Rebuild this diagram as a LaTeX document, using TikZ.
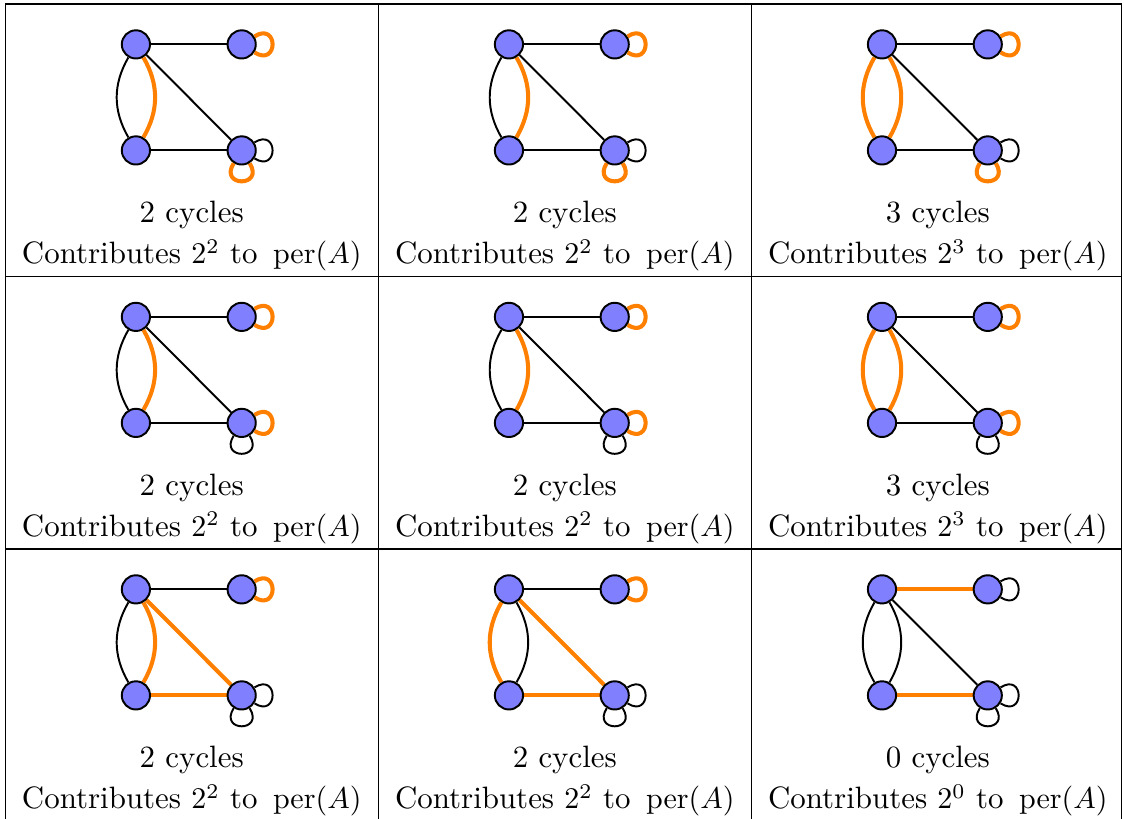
\documentclass[tikz,border=0pt]{standalone}
\usetikzlibrary{backgrounds}

\tikzset{
  vert/.style={circle, draw, fill=blue!50, line width=0.65pt, minimum size=9.4pt, inner sep=0pt},
  plain/.style={draw=black, line width=0.65pt},
  hot/.style={draw=orange, line width=1.35pt},
  rule/.style={draw=black, line width=0.4pt},
  caption/.style={anchor=base, font=\fontsize{10.3}{12}\selectfont},
}

\begin{document}
\begin{tikzpicture}
  \useasboundingbox (0,0) rectangle (13.167,9.594);

  % table rules
  \draw[rule] (0.064,9.548) -- (13.138,9.548);
  \draw[rule] (0.064,6.356) -- (13.138,6.356);
  \draw[rule] (0.064,3.164) -- (13.138,3.164);
  \foreach \x in {0.064,4.434,8.804,13.138}
    \draw[rule] (\x,0) -- (\x,9.548);

  % col/row/cycles/top/bottom/diagonal/left/right/loop tr/loop br/loop below
  \foreach \col/\row/\num/\eup/\elow/\ediag/\eleft/\eright/\etr/\ebr/\ebot in {
      0/0/2/plain/plain/plain/plain/hot/hot/plain/hot,
      1/0/2/plain/plain/plain/plain/hot/hot/plain/hot,
      2/0/3/plain/plain/plain/hot/hot/hot/plain/hot,
      0/1/2/plain/plain/plain/plain/hot/hot/hot/plain,
      1/1/2/plain/plain/plain/plain/hot/hot/hot/plain,
      2/1/3/plain/plain/plain/hot/hot/hot/hot/plain,
      0/2/2/plain/hot/hot/plain/hot/hot/plain/plain,
      1/2/2/plain/hot/hot/hot/plain/hot/plain/plain,
      2/2/0/hot/hot/plain/plain/plain/plain/plain/plain}
  {
    \begin{scope}[shift={(0.064+4.37*\col,9.548-3.192*\row)}]
      \node[vert] (tl\row\col) at (1.528,-0.474) {};
      \node[vert] (tr\row\col) at (2.767,-0.474) {};
      \node[vert] (bl\row\col) at (1.528,-1.716) {};
      \node[vert] (br\row\col) at (2.767,-1.716) {};
      \node[caption] (cyc\row\col) at (2.182,-2.562) {\num\ cycles};
      \node[caption] (con\row\col) at (2.182,-3.046) {Contributes $2^{\num}$ to \,$\mathrm{per}(A)$};

      \begin{scope}[on background layer]
        \path[\eup] (tl\row\col) -- (tr\row\col);
        \path[\elow] (bl\row\col) -- (br\row\col);
        \path[\ediag] (tl\row\col) -- (br\row\col);
        \path[\eleft] (tl\row\col) to[bend right] (bl\row\col);
        \path[\eright] (tl\row\col) to[bend left] (bl\row\col);
        \path[\etr] (tr\row\col) to[out=32,in=-32,distance=9.5pt] (tr\row\col);
        \path[\ebr] (br\row\col) to[out=32,in=-32,distance=9.5pt] (br\row\col);
        \path[\ebot] (br\row\col) to[out=-122,in=-58,distance=9.5pt] (br\row\col);
      \end{scope}
    \end{scope}
  }
\end{tikzpicture}
\end{document}
